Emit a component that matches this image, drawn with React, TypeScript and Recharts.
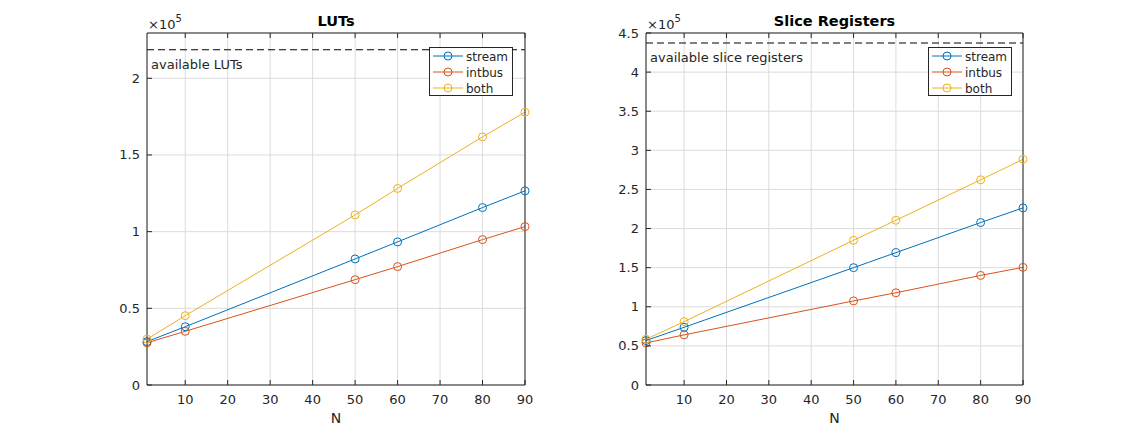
import React from "react";
import {
  LineChart,
  Line,
  XAxis,
  YAxis,
  CartesianGrid,
  ReferenceLine,
  Legend,
} from "recharts";

const nValues = [1, 10, 50, 60, 80, 90];

const lutStream = [28300, 38000, 82200, 93300, 115700, 126600];
const lutIntbus = [27500, 35000, 68700, 77200, 94800, 103300];
const lutBoth = [29900, 45200, 110900, 128200, 161800, 177900];

const regStream = [56800, 73800, 150000, 169200, 207700, 226400];
const regIntbus = [53800, 64100, 107500, 117900, 140100, 150400];
const regBoth = [58500, 81000, 185000, 210600, 262300, 288500];

const xTicks = [10, 20, 30, 40, 50, 60, 70, 80, 90];
const lutTicks = [0, 50000, 100000, 150000, 200000];
const regTicks = [0, 50000, 100000, 150000, 200000, 250000, 300000, 350000, 400000, 450000];

const availableLuts = 218600;
const availableRegs = 437200;
const lutMax = 229530;
const regMax = 450000;

const seriesNames = ["stream", "intbus", "both"];
const seriesColors = ["#0072BD", "#D95319", "#EDB120"];

const AXIS_COLOR = "#262626";
const GRID_COLOR = "#dcdcdc";
const FONT = "'DejaVu Sans', sans-serif";

const CHART_W = 566;
const CHART_H = 434;
const AX_X_H = 30;
const AX_TOP_H = 10;
const AX_Y_W = 30;
const AX_R_W = 10;

type Geom = { left: number; right: number; top: number; bottom: number };

const fmt = (v: number) => String(v / 1e5);

// MATLAB-style ticks: marks point into the plot box
const makeTick = (side: "bottom" | "top" | "left" | "right", g: Geom) => (props: any) => {
  const { x, y, payload } = props;
  if (side === "bottom") {
    return (
      <g>
        <line x1={x} x2={x} y1={g.bottom} y2={g.bottom - 5} stroke={AXIS_COLOR} />
        <text x={x} y={g.bottom + 18.5} textAnchor="middle" fill={AXIS_COLOR} fontSize={13}>
          {payload.value}
        </text>
      </g>
    );
  }
  if (side === "top") {
    return <line x1={x} x2={x} y1={g.top} y2={g.top + 5} stroke={AXIS_COLOR} />;
  }
  if (side === "left") {
    return (
      <g>
        <line x1={g.left} x2={g.left + 5} y1={y} y2={y} stroke={AXIS_COLOR} />
        <text x={g.left - 7} y={y + 4.5} textAnchor="end" fill={AXIS_COLOR} fontSize={13}>
          {fmt(payload.value)}
        </text>
      </g>
    );
  }
  return <line x1={g.right} x2={g.right - 5} y1={y} y2={y} stroke={AXIS_COLOR} />;
};

const LegendBox = () => (
  <svg width={84} height={49} style={{ display: "block" }}>
    <rect x={0.5} y={0.5} width={83} height={48} fill="#fff" stroke={AXIS_COLOR} />
    {seriesNames.map((name, i) => {
      const cy = 9 + i * 16;
      return (
        <g key={name}>
          <line x1={4} x2={34} y1={cy} y2={cy} stroke={seriesColors[i]} />
          <circle cx={19} cy={cy} r={4} fill="none" stroke={seriesColors[i]} />
          <text x={37} y={cy + 4.5} fontSize={12} fill={AXIS_COLOR} fontFamily={FONT}>
            {name}
          </text>
        </g>
      );
    })}
  </svg>
);

type PanelProps = {
  title: string;
  stream: number[];
  intbus: number[];
  both: number[];
  yTicks: number[];
  yMax: number;
  available: number;
  availableLabel: string;
  g: Geom;
  legendLeft: number;
};

const Panel: React.FC<PanelProps> = ({
  title,
  stream,
  intbus,
  both,
  yTicks,
  yMax,
  available,
  availableLabel,
  g,
  legendLeft,
}) => {
  const data = nValues.map((n, i) => ({
    n,
    stream: stream[i],
    intbus: intbus[i],
    both: both[i],
  }));
  const cx = (g.left + g.right) / 2;

  return (
    <LineChart
      width={CHART_W}
      height={CHART_H}
      data={data}
      margin={{
        top: g.top - AX_TOP_H,
        bottom: CHART_H - g.bottom - AX_X_H,
        left: g.left - AX_Y_W,
        right: CHART_W - g.right - AX_R_W,
      }}
    >
      <CartesianGrid stroke={GRID_COLOR} />
      <XAxis
        dataKey="n"
        type="number"
        domain={[1, 90]}
        ticks={xTicks}
        height={AX_X_H}
        tickLine={false}
        axisLine={{ stroke: AXIS_COLOR }}
        tick={makeTick("bottom", g)}
        interval={0}
      />
      <XAxis
        xAxisId="top"
        orientation="top"
        dataKey="n"
        type="number"
        domain={[1, 90]}
        ticks={xTicks}
        height={AX_TOP_H}
        tickLine={false}
        axisLine={{ stroke: AXIS_COLOR }}
        tick={makeTick("top", g)}
        interval={0}
      />
      <YAxis
        type="number"
        domain={[0, yMax]}
        ticks={yTicks}
        width={AX_Y_W}
        tickLine={false}
        axisLine={{ stroke: AXIS_COLOR }}
        tick={makeTick("left", g)}
        interval={0}
      />
      <YAxis
        yAxisId="right"
        orientation="right"
        type="number"
        domain={[0, yMax]}
        ticks={yTicks}
        width={AX_R_W}
        tickLine={false}
        axisLine={{ stroke: AXIS_COLOR }}
        tick={makeTick("right", g)}
        interval={0}
      />
      <ReferenceLine
        y={available}
        stroke="#000"
        strokeDasharray="7 4"
        label={(p: any) => (
          <text x={g.left + 4} y={p.viewBox.y + 19} fontSize={13} fill={AXIS_COLOR}>
            {availableLabel}
          </text>
        )}
      />
      {seriesNames.map((name, i) => (
        <Line
          key={name}
          dataKey={name}
          type="linear"
          stroke={seriesColors[i]}
          strokeWidth={1}
          dot={{ r: 4, fill: "none", stroke: seriesColors[i], strokeWidth: 1 }}
          activeDot={false}
          isAnimationActive={false}
        />
      ))}
      <Legend
        layout="vertical"
        align="center"
        verticalAlign="middle"
        content={() => <LegendBox />}
        wrapperStyle={{ top: 47, left: legendLeft, width: 84, height: 49 }}
      />
      <text x={cx} y={26} textAnchor="middle" fontWeight="bold" fontSize={14.5} fill="#000">
        {title}
      </text>
      <text x={g.left + 1} y={29} fontSize={13} fill={AXIS_COLOR}>
        {"\u00d710"}
        <tspan dy={-7} fontSize={10}>
          5
        </tspan>
      </text>
      <text x={cx} y={423} textAnchor="middle" fontSize={14} fill={AXIS_COLOR}>
        N
      </text>
    </LineChart>
  );
};

export default function App() {
  return (
    <div
      style={{
        position: "absolute",
        left: 0,
        top: 0,
        width: 1132,
        height: 434,
        background: "#fff",
        fontFamily: FONT,
      }}
    >
      <div style={{ position: "absolute", left: 0, top: 0 }}>
        <Panel
          title="LUTs"
          stream={lutStream}
          intbus={lutIntbus}
          both={lutBoth}
          yTicks={lutTicks}
          yMax={lutMax}
          available={availableLuts}
          availableLabel="available LUTs"
          g={{ left: 147, right: 525, top: 33, bottom: 385 }}
          legendLeft={429}
        />
      </div>
      <div style={{ position: "absolute", left: CHART_W, top: 0 }}>
        <Panel
          title="Slice Registers"
          stream={regStream}
          intbus={regIntbus}
          both={regBoth}
          yTicks={regTicks}
          yMax={regMax}
          available={availableRegs}
          availableLabel="available slice registers"
          g={{ left: 80, right: 457, top: 33, bottom: 385 }}
          legendLeft={362}
        />
      </div>
    </div>
  );
}
